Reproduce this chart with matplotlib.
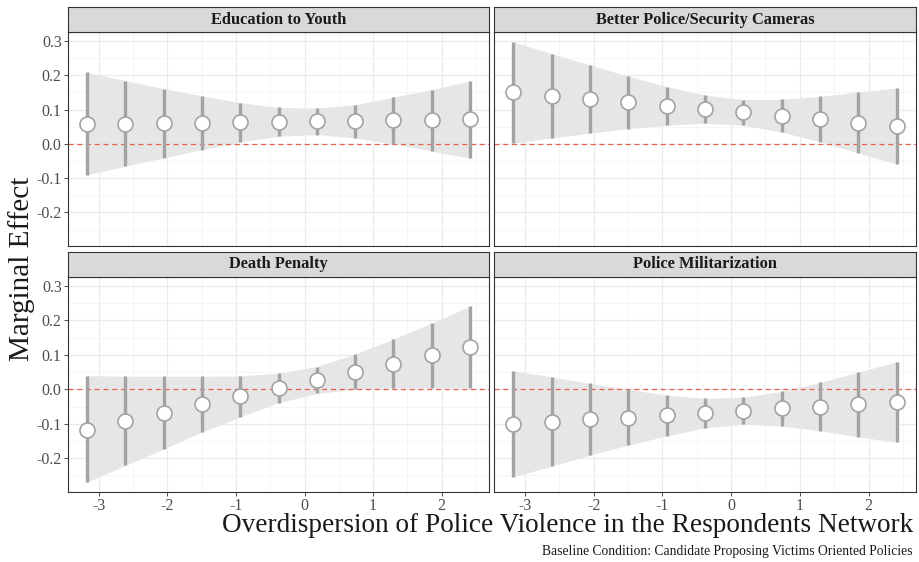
import matplotlib.pyplot as plt

plt.rcParams['font.family'] = ['Liberation Serif', 'DejaVu Serif']

# evaluation points of the moderator (overdispersion)
overdispersion = [-3.17, -2.612, -2.054, -1.496, -0.938, -0.38, 0.178, 0.736, 1.294, 1.852, 2.41]

# marginal effects with 95% bounds, one set per policy
education_est = [0.058, 0.058, 0.060, 0.062, 0.064, 0.065, 0.066, 0.066, 0.068, 0.070, 0.071]
education_lo = [-0.090, -0.065, -0.041, -0.017, 0.005, 0.022, 0.027, 0.017, 0.000, -0.021, -0.042]
education_hi = [0.208, 0.184, 0.161, 0.140, 0.120, 0.106, 0.104, 0.114, 0.136, 0.158, 0.183]

cameras_est = [0.150, 0.140, 0.131, 0.121, 0.110, 0.102, 0.092, 0.082, 0.073, 0.062, 0.051]
cameras_lo = [0.002, 0.017, 0.031, 0.044, 0.054, 0.060, 0.054, 0.034, 0.006, -0.027, -0.059]
cameras_hi = [0.297, 0.263, 0.230, 0.197, 0.167, 0.142, 0.129, 0.130, 0.138, 0.151, 0.163]

death_est = [-0.117, -0.091, -0.068, -0.044, -0.019, 0.005, 0.028, 0.050, 0.074, 0.099, 0.122]
death_lo = [-0.269, -0.221, -0.173, -0.124, -0.080, -0.039, -0.012, 0.000, 0.005, 0.005, 0.005]
death_hi = [0.040, 0.038, 0.038, 0.038, 0.039, 0.047, 0.066, 0.102, 0.146, 0.192, 0.241]

militar_est = [-0.100, -0.094, -0.087, -0.082, -0.074, -0.068, -0.062, -0.055, -0.050, -0.043, -0.037]
militar_lo = [-0.254, -0.223, -0.191, -0.162, -0.135, -0.112, -0.101, -0.107, -0.120, -0.138, -0.154]
militar_hi = [0.054, 0.036, 0.017, 0.000, -0.017, -0.026, -0.023, -0.006, 0.020, 0.050, 0.080]

panel_titles = ["Education to Youth", "Better Police/Security Cameras",
                "Death Penalty", "Police Militarization"]
panel_data = [
    (education_est, education_lo, education_hi),
    (cameras_est, cameras_lo, cameras_hi),
    (death_est, death_lo, death_hi),
    (militar_est, militar_lo, militar_hi),
]

y_major = [-0.2, -0.1, 0.0, 0.1, 0.2, 0.3]
y_minor = [-0.25, -0.15, -0.05, 0.05, 0.15, 0.25]
x_major = [-3, -2, -1, 0, 1, 2]
x_minor = [-2.5, -1.5, -0.5, 0.5, 1.5, 2.5]

W, H = 919, 562
fig = plt.figure(figsize=(W / 100, H / 100), dpi=100)


def px_axes(left, top, right, bottom):
    return fig.add_axes([left / W, 1 - bottom / H, (right - left) / W, (bottom - top) / H])


# panel boxes in pixels: left, top, right, bottom
boxes = [(68, 32, 489, 246), (494, 32, 916, 246),
         (68, 277, 489, 492), (494, 277, 916, 492)]
STRIP_H = 25

for i, (title, (est, lo, hi), box) in enumerate(zip(panel_titles, panel_data, boxes)):
    ax = px_axes(*box)
    ax.fill_between(overdispersion, lo, hi, color='#e6e6e6', lw=0, zorder=1)
    ax.axhline(0, color='#e8604c', ls=(0, (4, 3)), lw=0.9, zorder=2)
    ax.vlines(overdispersion, lo, hi, color='#a3a3a3', lw=2.4, zorder=3)
    ax.plot(overdispersion, est, 'o', ms=10.8, mfc='white', mec='#a3a3a3', mew=1.2, zorder=4)

    ax.set_xlim(-3.45, 2.69)
    ax.set_ylim(-0.298, 0.326)
    ax.set_xticks(x_major)
    ax.set_xticks(x_minor, minor=True)
    ax.set_yticks(y_major)
    ax.set_yticks(y_minor, minor=True)
    ax.grid(which='major', color='#ebebeb', lw=0.9, zorder=0)
    ax.grid(which='minor', color='#f2f2f2', lw=0.5, zorder=0)
    ax.set_axisbelow(True)

    ax.tick_params(which='major', length=3, width=0.6, color='#333333',
                   labelcolor='#4d4d4d', labelsize=11.5, pad=1.5)
    ax.tick_params(which='minor', length=0)
    if i % 2 == 0:
        ax.set_yticklabels([f"{v:.1f}" for v in y_major])
    else:
        ax.tick_params(axis='y', which='major', length=0, labelleft=False)
    if i >= 2:
        ax.set_xticklabels([str(v) for v in x_major])
    else:
        ax.tick_params(axis='x', which='major', length=0, labelbottom=False)
    for sp in ax.spines.values():
        sp.set_color('#333333')
        sp.set_linewidth(0.8)

    # facet strip
    sax = px_axes(box[0], box[1] - STRIP_H, box[2], box[1])
    sax.set_facecolor('#d9d9d9')
    sax.set_xticks([])
    sax.set_yticks([])
    for sp in sax.spines.values():
        sp.set_color('#333333')
        sp.set_linewidth(0.8)
    sax.text(0.5, 0.5, title, transform=sax.transAxes, ha='center', va='center',
             fontsize=11.8, fontweight='bold', color='#1a1a1a')

fig.text(22 / W, 1 - 269 / H, "Marginal Effect", rotation=90, ha='center', va='center',
         fontsize=21, color='#1a1a1a')
fig.text(913 / W, 1 - 526 / H, "Overdispersion of Police Violence in the Respondents Network",
         ha='right', va='center', fontsize=19.6, color='#1a1a1a')
fig.text(912 / W, 1 - 551 / H, "Baseline Condition: Candidate Proposing Victims Oriented Policies",
         ha='right', va='center', fontsize=9.8, color='#1a1a1a')

fig.savefig('out.png', dpi=100)
